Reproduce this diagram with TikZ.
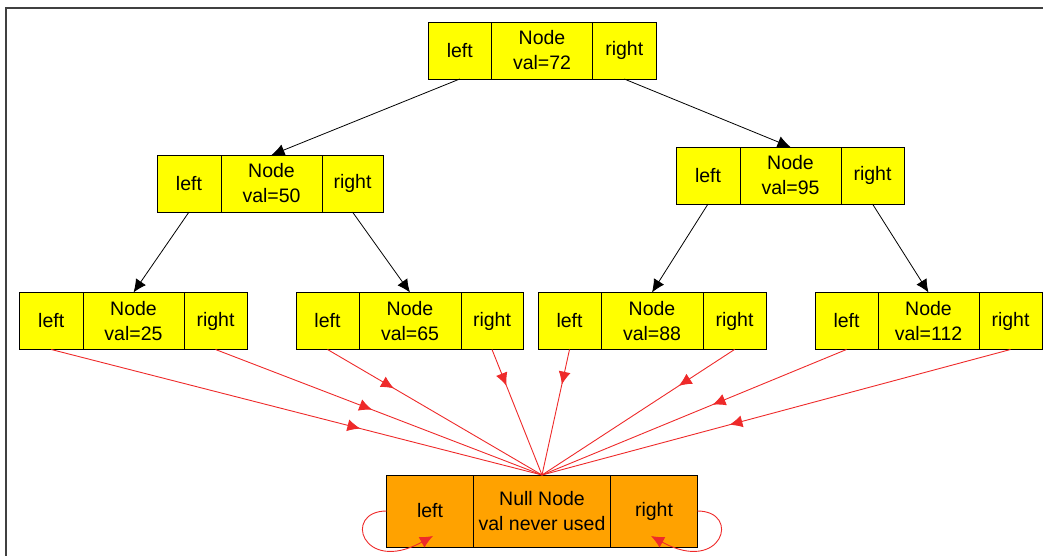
\documentclass[tikz,border=0pt]{standalone}
\usepackage{fontspec}
\setmainfont{Liberation Sans}
\usetikzlibrary{arrows.meta,decorations.markings}
\definecolor{nodeyellow}{HTML}{FFFF00}
\definecolor{nullorange}{HTML}{FFA200}
\definecolor{linkred}{HTML}{EE2A2A}
\definecolor{framegray}{HTML}{404040}
\tikzset{
  cell/.style={draw=black, line width=0.9pt, fill=nodeyellow, minimum height=57pt,
    inner sep=1pt, outer sep=0pt, align=center, anchor=north west,
    font=\fontsize{19.5}{25}\selectfont},
  nullcell/.style={cell, fill=nullorange, minimum height=72pt},
  treelink/.style={draw=black, line width=0.8pt, -{Latex[length=13pt,width=12pt]}},
  nulllink/.style={draw=linkred, line width=0.9pt},
  midarrow/.style={nulllink, decoration={markings,
    mark=at position #1 with {\arrow[linkred]{Latex[length=13pt,width=12pt]}}},
    postaction={decorate}},
  looplink/.style={nulllink, -{Latex[length=13pt,width=12pt]}}
}
\newcommand\treenode[8]{%
  \node[cell, minimum width=#3pt] (#1l) at (#2,#6) {left};
  \node[cell, minimum width=#4pt] (#1m) at (#1l.north east) {Node\\val=#7};
  \node[cell, minimum width=#5pt] (#1r) at (#1m.north east) {right};}
\begin{document}
\begin{tikzpicture}[x=1pt,y=-1pt]
\useasboundingbox (0,0) rectangle (1043,556);
\draw[framegray, line width=1.5pt] (6,560) -- (6,8) -- (1050,8);

\treenode{root}{428}{63.5}{101}{63.5}{22}{72}{}
\treenode{a}{157}{64}{101}{61}{155}{50}{}
\treenode{b}{676}{64}{101}{63}{147}{95}{}
\treenode{c}{19.5}{63.5}{101}{63}{292.5}{25}{}
\treenode{d}{296}{63}{102}{62}{292.5}{65}{}
\treenode{e}{538}{63}{102}{63}{292.5}{88}{}
\treenode{f}{815}{63}{101}{63}{292.5}{112}{}

\node[nullcell, minimum width=86.6pt] (nl) at (386.7,475) {left};
\node[nullcell, minimum width=137.4pt] (nm) at (nl.north east) {Null Node\\val never used};
\node[nullcell, minimum width=86.6pt] (nr) at (nm.north east) {right};

\draw[treelink] (rootl.south) -- (am.north);
\draw[treelink] (rootr.south) -- (bm.north);
\draw[treelink] (al.south) -- (cm.north);
\draw[treelink] (ar.south) -- (dm.north);
\draw[treelink] (bl.south) -- (em.north);
\draw[treelink] (br.south) -- (fm.north);

\draw[midarrow=0.63] (cl.south) -- (nm.north);
\draw[midarrow=0.48] (cr.south) -- (nm.north);
\draw[midarrow=0.31] (dl.south) -- (nm.north);
\draw[midarrow=0.29] (dr.south) -- (nm.north);
\draw[midarrow=0.28] (el.south) -- (nm.north);
\draw[midarrow=0.29] (er.south) -- (nm.north);
\draw[midarrow=0.44] (fl.south) -- (nm.north);
\draw[midarrow=0.60] (fr.south) -- (nm.north);

\coordinate (lend) at (433,536);
\coordinate (rend) at (651,536);
\draw[looplink] (nl.west) .. controls (342,511) and (362,575) .. (lend);
\draw[looplink] (nr.east) .. controls (742,511) and (722,575) .. (rend);
\end{tikzpicture}
\end{document}
